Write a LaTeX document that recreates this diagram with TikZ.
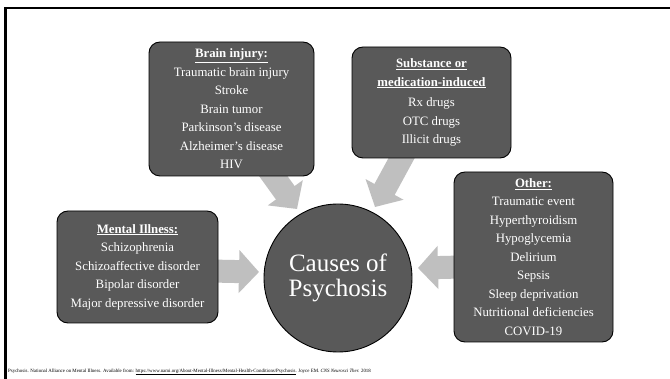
\documentclass[tikz,border=0pt]{standalone}
\usepackage{fontspec}
\setmainfont{Liberation Serif}
\usetikzlibrary{arrows.meta,calc}
\definecolor{boxgray}{HTML}{595959}
\definecolor{arrgray}{HTML}{BFBFBF}
\begin{document}
\begin{tikzpicture}[x=1pt,y=-1pt,
  causebox/.style={draw=black,line width=0.9pt,fill=boxgray,rounded corners=11pt,
    text=white,align=center,font=\fontsize{12.8}{18.5}\selectfont,inner sep=0pt},
  bigarrow/.style={draw=arrgray,line width=23pt,
    -{Triangle[width=42pt,length=20pt,fill=arrgray]}},
  hub/.style={circle,draw=black,line width=0.9pt,fill=boxgray,text=white,
    align=center,font=\fontsize{25}{25}\selectfont,minimum size=148pt,inner sep=0pt}]
\useasboundingbox (0,0) rectangle (670,379);
\fill[white] (0,0) rectangle (670,379);
\draw[line width=2.5pt] (5.3,379) -- (5.3,8.2) -- (670,8.2);

% arrow coordinates
\coordinate (bs) at (266,166);
\coordinate (bt) at (297,209);
\coordinate (ss) at (406,150);
\coordinate (st) at (375,207);
\coordinate (ms) at (210,271);
\coordinate (mt) at (259,272);
\coordinate (os) at (462,267);
\coordinate (ot) at (418,268);

\draw[bigarrow] (bs) -- (bt);
\draw[bigarrow] (ss) -- (st);
\draw[bigarrow] (ms) -- (mt);
\draw[bigarrow] (os) -- (ot);

\node[causebox,minimum width=165pt,minimum height=134pt] (brain) at (231.5,109)
 {\underline{\textbf{Brain injury:}}\\Traumatic brain injury\\Stroke\\Brain tumor\\Parkinson’s disease\\Alzheimer’s disease\\HIV};

\node[causebox,minimum width=159pt,minimum height=111pt] (subst) at (431.5,102.5)
 {\fontsize{12.8}{15.5}\selectfont\underline{\textbf{Substance or}}\\\underline{\textbf{medication-induced}}\\[2pt]\fontsize{12.8}{17.5}\selectfont Rx drugs\\OTC drugs\\Illicit drugs};

\node[causebox,minimum width=159pt,minimum height=170pt] (other) at (533.5,257)
 {\underline{\textbf{Other:}}\\Traumatic event\\Hyperthyroidism\\Hypoglycemia\\Delirium\\Sepsis\\Sleep deprivation\\Nutritional deficiencies\\COVID-19};

\node[causebox,minimum width=161pt,minimum height=112pt] (mental) at (137.5,267)
 {\fontsize{12.8}{18}\selectfont\underline{\textbf{Mental Illness:}}\\Schizophrenia\\Schizoaffective disorder\\Bipolar disorder\\Major depressive disorder};

\node[hub] (hubnode) at (338,278) {Causes of\\Psychosis};

\node[anchor=west,inner sep=0pt,font=\fontsize{4.9}{5}\selectfont] (ref) at (8,372)
 {Psychosis. National Alliance on Mental Illness. Available from: \underline{https://www.nami.org/About-Mental-Illness/Mental-Health-Conditions/Psychosis}. Joyce EM. \textit{CNS Neurosci Ther.} 2018};
\end{tikzpicture}
\end{document}
